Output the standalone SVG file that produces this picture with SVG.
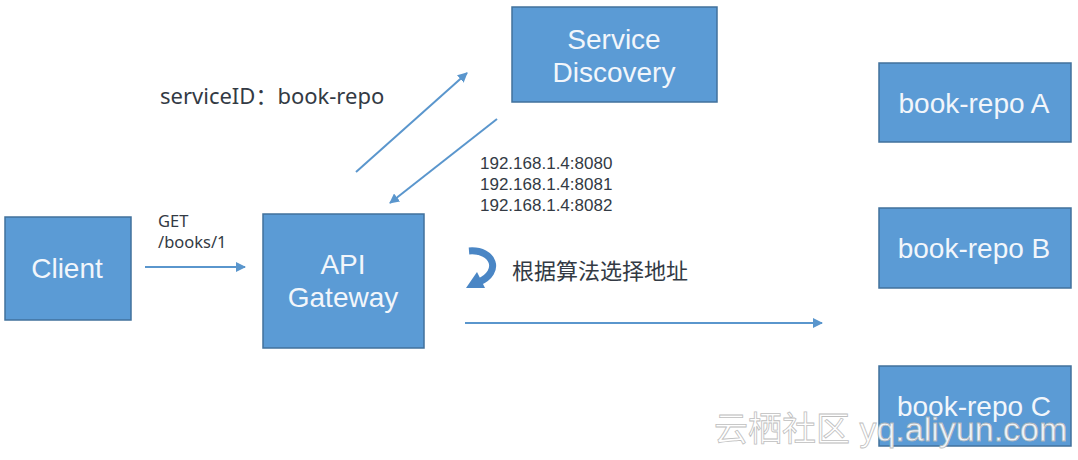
<svg xmlns="http://www.w3.org/2000/svg" width="1078" height="460" viewBox="0 0 1078 460">
<style>
.box{fill:#5b9bd5;stroke:#41719c;stroke-width:1.5}
.bt{font-family:"Liberation Sans",Arial,sans-serif;font-size:28px;fill:#f2f6fb;text-anchor:middle}
.lbl{font-family:"Noto Sans","Open Sans",sans-serif;fill:#333a44}
.ip{font-family:"Liberation Sans",Arial,sans-serif;font-size:17px;fill:#333a44}
.cn{font-family:"Noto Sans CJK SC",sans-serif;fill:#333a44}
.conn{stroke:#5a96cd;stroke-width:2;fill:none}
</style>
<defs>
<marker id="ah" viewBox="0 0 10 10" refX="9" refY="5" markerWidth="10" markerHeight="10" markerUnits="userSpaceOnUse" orient="auto">
<path d="M0,0 L10,5 L0,10 Z" fill="#5a96cd"/>
</marker>
</defs>
<rect width="1078" height="460" fill="#ffffff"/>
<g id="client"><rect class="box" x="5" y="217" width="126" height="103"/><text class="bt" x="67" y="278">Client</text></g>
<g id="gateway"><rect class="box" x="263" y="214" width="161" height="134"/><text class="bt" x="343" y="274">API</text><text class="bt" x="343" y="307">Gateway</text></g>
<g id="discovery"><rect class="box" x="512" y="7" width="205" height="95"/><text class="bt" x="614" y="49">Service</text><text class="bt" x="614" y="82">Discovery</text></g>
<g id="repoA"><rect class="box" x="879" y="63" width="192" height="79"/><text class="bt" x="974" y="113">book-repo A</text></g>
<g id="repoB"><rect class="box" x="879" y="208" width="192" height="80"/><text class="bt" x="974" y="258">book-repo B</text></g>
<g id="repoC"><rect class="box" x="879" y="366" width="192" height="80"/><text class="bt" x="974" y="416">book-repo C</text></g>
<g id="connectors">
<line class="conn" x1="145" y1="267" x2="245" y2="267" marker-end="url(#ah)"/>
<line class="conn" x1="356" y1="172" x2="467" y2="73" marker-end="url(#ah)"/>
<line class="conn" x1="497" y1="119" x2="390" y2="203" marker-end="url(#ah)"/>
<line class="conn" x1="465" y1="323" x2="822" y2="323" marker-end="url(#ah)"/>
</g>
<g id="labels">
<text class="lbl" x="158" y="227" font-size="16.5">GET</text>
<text class="lbl" x="158" y="248" font-size="16.5">/books/1</text>
<text class="lbl" x="160" y="104" font-size="22">serviceID<tspan font-family="Noto Sans CJK SC,sans-serif">：</tspan>book-repo</text>
<text class="ip" x="480" y="169">192.168.1.4:8080</text>
<text class="ip" x="480" y="190">192.168.1.4:8081</text>
<text class="ip" x="480" y="211">192.168.1.4:8082</text>
<text class="cn" x="512" y="279" font-size="22">根据算法选择地址</text>
</g>
<g id="loop-icon">
<path d="M469,251 C494,249 502,272 479,282" stroke="#4a86c5" stroke-width="7" fill="none"/>
<polygon points="466,288 477,272 485,288" fill="#4a86c5"/>
</g>
<text x="714" y="441" font-size="34" font-family="Liberation Sans,Noto Sans CJK SC,sans-serif" fill="#ffffff" stroke="#b8b8b8" stroke-width="0.8" opacity="0.9">云栖社区 yq.aliyun.com</text>
</svg>
